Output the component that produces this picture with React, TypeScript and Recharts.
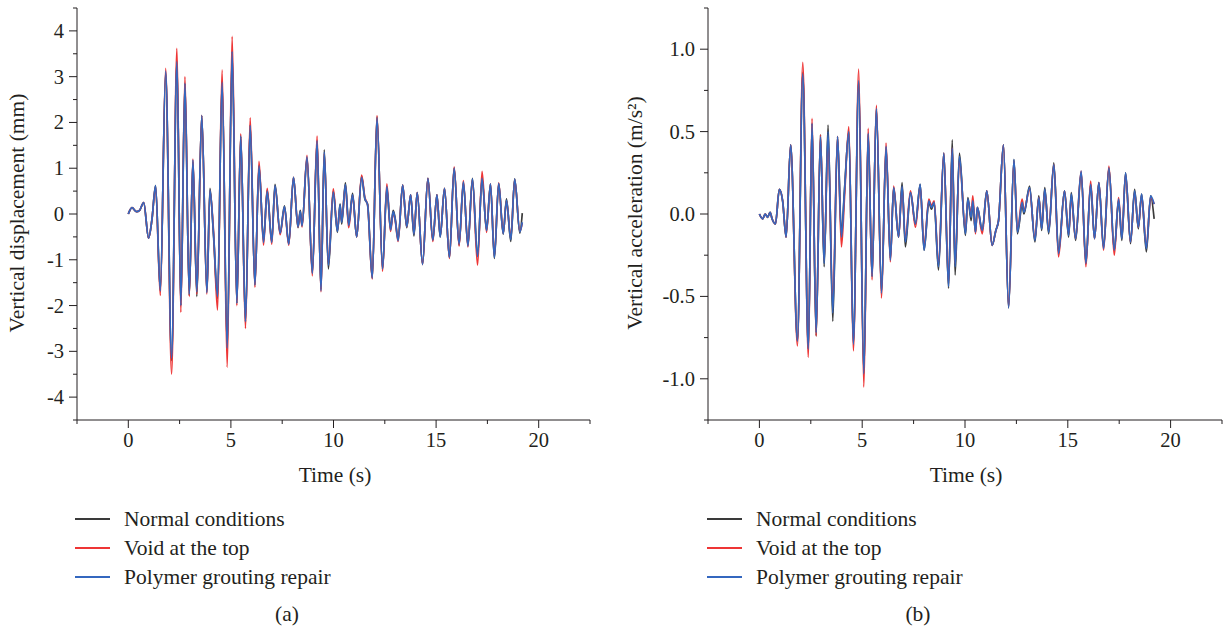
import React from 'react';
import { LineChart, Line, XAxis, YAxis } from 'recharts';

// panel (a): vertical displacement (mm)
const timeA = [0, 0.18, 0.4, 0.55, 0.75, 0.99, 1.15, 1.33, 1.56, 1.82, 2.11, 2.37, 2.56, 2.76, 2.97, 3.15, 3.34, 3.58, 3.83, 3.98, 4.15, 4.35, 4.57, 4.82, 5.06, 5.29, 5.48, 5.71, 5.94, 6.17, 6.37, 6.59, 6.77, 6.99, 7.15, 7.4, 7.61, 7.82, 8.05, 8.27, 8.38, 8.47, 8.71, 8.97, 9.2, 9.39, 9.55, 9.75, 9.99, 10.19, 10.32, 10.4, 10.58, 10.74, 10.93, 11.13, 11.37, 11.53, 11.66, 11.89, 12.12, 12.39, 12.6, 12.78, 12.91, 13.0, 13.15, 13.37, 13.57, 13.76, 13.92, 14.08, 14.34, 14.6, 14.84, 15.04, 15.2, 15.41, 15.65, 15.88, 16.12, 16.33, 16.55, 16.77, 17.02, 17.24, 17.46, 17.65, 17.84, 18.05, 18.27, 18.43, 18.64, 18.83, 19.08, 19.2];
const normalA = [0, 0.14, 0.05, 0.08, 0.25, -0.53, -0.13, 0.62, -1.68, 3.08, -3.2, 3.35, -2.0, 2.85, -1.78, 1.15, -1.8, 2.15, -1.7, 0.56, -0.45, -1.85, 2.9, -2.95, 3.5, -1.95, 1.7, -2.35, 1.95, -1.55, 1.05, -0.58, 0.52, -0.6, 0.65, -0.42, 0.18, -0.65, 0.8, -0.3, 0.08, -0.24, 1.22, -1.28, 1.6, -1.65, 1.4, -1.2, 0.5, -0.4, 0.22, -0.22, 0.68, -0.22, 0.45, -0.5, 0.82, 0.32, 0.22, -1.4, 2.12, -1.2, 0.55, -0.32, 0.08, -0.08, -0.55, 0.63, -0.3, 0.42, -0.48, 0.47, -1.1, 0.78, -0.57, 0.42, -0.5, 0.56, -0.95, 1.0, -0.68, 0.68, -0.68, 0.78, -0.92, 0.78, -0.35, 0.65, -0.97, 0.66, -0.44, 0.33, -0.6, 0.77, -0.42, 0.02];
const voidA = [0, 0.14, 0.05, 0.08, 0.25, -0.53, -0.13, 0.6, -1.78, 3.18, -3.5, 3.62, -2.15, 3.0, -1.8, 1.2, -1.75, 2.15, -1.75, 0.5, -0.35, -2.1, 3.15, -3.35, 3.88, -2.0, 1.75, -2.5, 2.1, -1.6, 1.15, -0.68, 0.56, -0.66, 0.6, -0.45, 0.14, -0.68, 0.8, -0.28, 0.02, -0.28, 1.28, -1.35, 1.7, -1.7, 1.32, -1.1, 0.55, -0.35, 0.15, -0.15, 0.62, -0.3, 0.4, -0.5, 0.85, 0.36, 0.2, -1.42, 2.15, -1.25, 0.66, -0.38, 0.02, -0.12, -0.6, 0.63, -0.28, 0.42, -0.42, 0.47, -1.1, 0.78, -0.6, 0.42, -0.48, 0.56, -0.97, 1.03, -0.7, 0.73, -0.72, 0.75, -1.12, 0.93, -0.4, 0.66, -0.92, 0.68, -0.42, 0.28, -0.52, 0.75, -0.38, -0.2];
const polymerA = [0, 0.14, 0.05, 0.08, 0.25, -0.53, -0.13, 0.62, -1.68, 3.12, -3.15, 3.33, -2.0, 2.86, -1.75, 1.18, -1.7, 2.15, -1.72, 0.52, -0.4, -1.8, 2.88, -2.93, 3.55, -1.95, 1.7, -2.35, 1.93, -1.55, 1.05, -0.62, 0.5, -0.62, 0.62, -0.42, 0.16, -0.66, 0.8, -0.28, 0.05, -0.26, 1.25, -1.3, 1.6, -1.68, 1.35, -1.12, 0.48, -0.38, 0.2, -0.18, 0.64, -0.25, 0.42, -0.5, 0.8, 0.34, 0.2, -1.4, 2.1, -1.2, 0.6, -0.35, 0.05, -0.1, -0.58, 0.63, -0.28, 0.42, -0.44, 0.47, -1.1, 0.78, -0.57, 0.42, -0.5, 0.56, -0.95, 1.0, -0.66, 0.7, -0.7, 0.77, -0.93, 0.78, -0.36, 0.66, -0.95, 0.67, -0.43, 0.3, -0.56, 0.76, -0.39, -0.18];

// panel (b): vertical acceleration (m/s²)
const timeB = [0, 0.16, 0.28, 0.4, 0.52, 0.62, 0.78, 0.97, 1.13, 1.3, 1.52, 1.85, 2.11, 2.38, 2.56, 2.76, 2.97, 3.15, 3.34, 3.57, 3.8, 3.99, 4.14, 4.35, 4.57, 4.83, 5.08, 5.29, 5.48, 5.69, 5.94, 6.16, 6.37, 6.53, 6.77, 6.94, 7.1, 7.35, 7.59, 7.82, 8.01, 8.24, 8.37, 8.5, 8.71, 8.97, 9.2, 9.38, 9.52, 9.73, 10.02, 10.14, 10.3, 10.38, 10.51, 10.6, 10.84, 11.06, 11.32, 11.5, 11.63, 11.87, 12.12, 12.38, 12.55, 12.78, 12.87, 13.14, 13.4, 13.59, 13.73, 13.88, 14.07, 14.32, 14.55, 14.84, 15.04, 15.17, 15.38, 15.65, 15.88, 16.11, 16.3, 16.51, 16.74, 17.0, 17.26, 17.47, 17.63, 17.81, 18.05, 18.25, 18.43, 18.59, 18.82, 19.03, 19.2];
const normalB = [0, -0.03, 0, -0.02, 0.01, -0.03, -0.06, 0.15, 0.08, -0.14, 0.42, -0.77, 0.86, -0.82, 0.55, -0.74, 0.48, -0.32, 0.54, -0.65, 0.47, -0.12, 0.15, 0.5, -0.78, 0.8, -0.97, 0.48, -0.38, 0.64, -0.47, 0.4, -0.27, 0.16, -0.14, 0.19, -0.2, 0.13, -0.06, 0.18, -0.22, 0.07, 0.03, 0.07, -0.34, 0.37, -0.45, 0.45, -0.37, 0.37, -0.13, 0.1, -0.04, 0.07, -0.11, 0.04, -0.1, 0.14, -0.19, -0.1, -0.04, 0.42, -0.57, 0.33, -0.12, 0.05, 0, 0.17, -0.17, 0.11, -0.1, 0.16, -0.12, 0.31, -0.23, 0.14, -0.14, 0.13, -0.16, 0.25, -0.3, 0.18, -0.15, 0.19, -0.2, 0.28, -0.22, 0.08, -0.16, 0.25, -0.18, 0.15, -0.09, 0.12, -0.23, 0.11, -0.03];
const voidB = [0, -0.03, 0, -0.02, 0.01, -0.03, -0.06, 0.15, 0.08, -0.14, 0.42, -0.8, 0.92, -0.87, 0.58, -0.74, 0.48, -0.28, 0.45, -0.55, 0.47, -0.2, 0.1, 0.53, -0.83, 0.88, -1.05, 0.52, -0.4, 0.66, -0.51, 0.43, -0.29, 0.17, -0.14, 0.16, -0.15, 0.14, -0.08, 0.17, -0.2, 0.09, 0.05, 0.08, -0.3, 0.37, -0.42, 0.4, -0.3, 0.33, -0.1, 0.08, 0, 0.11, -0.12, 0.04, -0.12, 0.14, -0.19, -0.1, -0.04, 0.42, -0.56, 0.32, -0.1, 0.09, 0.02, 0.15, -0.15, 0.1, -0.08, 0.14, -0.1, 0.3, -0.26, 0.14, -0.12, 0.1, -0.15, 0.26, -0.32, 0.2, -0.15, 0.19, -0.22, 0.29, -0.25, 0.1, -0.14, 0.24, -0.17, 0.13, -0.08, 0.11, -0.2, 0.1, 0.06];
const polymerB = [0, -0.03, 0, -0.02, 0.01, -0.03, -0.06, 0.15, 0.08, -0.14, 0.42, -0.77, 0.85, -0.82, 0.55, -0.72, 0.47, -0.3, 0.5, -0.6, 0.47, -0.14, 0.14, 0.5, -0.79, 0.81, -0.97, 0.49, -0.38, 0.64, -0.48, 0.41, -0.28, 0.16, -0.14, 0.17, -0.17, 0.13, -0.06, 0.18, -0.22, 0.08, 0.04, 0.07, -0.32, 0.37, -0.44, 0.4, -0.32, 0.35, -0.12, 0.09, -0.02, 0.08, -0.11, 0.04, -0.1, 0.14, -0.19, -0.1, -0.04, 0.42, -0.57, 0.33, -0.11, 0.07, 0.01, 0.16, -0.16, 0.1, -0.09, 0.15, -0.11, 0.3, -0.24, 0.14, -0.13, 0.12, -0.15, 0.26, -0.3, 0.18, -0.15, 0.19, -0.21, 0.28, -0.22, 0.09, -0.15, 0.25, -0.17, 0.14, -0.08, 0.12, -0.21, 0.11, 0.06];

const xTicks = [-2.5, 0, 2.5, 5, 7.5, 10, 12.5, 15, 17.5, 20, 22.5];
const yTicksA = [-4.5, -4, -3.5, -3, -2.5, -2, -1.5, -1, -0.5, 0, 0.5, 1, 1.5, 2, 2.5, 3, 3.5, 4, 4.5];
const yTicksB = [-1.25, -1, -0.75, -0.5, -0.25, 0, 0.25, 0.5, 0.75, 1, 1.25];

const seriesNames = ['Normal conditions', 'Void at the top', 'Polymer grouting repair'];
const seriesColors = ['#3a3a3a', '#ee3535', '#3467bf'];

const FONT = '"Liberation Serif", "DejaVu Serif", serif';
const INK = '#231f20';

const toRows = (t: number[], a: number[], b: number[], c: number[]) =>
  t.map((time, i) => ({ t: time, normal: a[i], void: b[i], polymer: c[i] }));

const dataA = toRows(timeA, normalA, voidA, polymerA);
const dataB = toRows(timeB, normalB, voidB, polymerB);

const XTick = (props: any) => {
  const { x, y, payload } = props;
  const v = payload.value;
  const major = Math.abs(v % 5) < 1e-6;
  return (
    <g>
      <line x1={x} x2={x} y1={y} y2={y + (major ? 8 : 4)} stroke={INK} strokeWidth={1} />
      {major && (
        <text x={x} y={y + 27} textAnchor="middle" fontFamily={FONT} fontSize={20.5} fill={INK}>
          {v}
        </text>
      )}
    </g>
  );
};

const makeYTick = (step: number, fmt: (v: number) => string) => (props: any) => {
  const { x, y, payload } = props;
  const v = payload.value;
  const r = v / step;
  const major = Math.abs(r - Math.round(r)) < 1e-6;
  return (
    <g>
      <line x1={x} x2={x - (major ? 8 : 4)} y1={y} y2={y} stroke={INK} strokeWidth={1} />
      {major && (
        <text x={x - 13} y={y + 7} textAnchor="end" fontFamily={FONT} fontSize={20.5} fill={INK}>
          {fmt(v)}
        </text>
      )}
    </g>
  );
};

const YTickA = makeYTick(1, (v) => String(v));
const YTickB = makeYTick(0.5, (v) => v.toFixed(1));

const Panel = ({ data, yDomain, yTicks, YTick, width }: any) => (
  <LineChart width={width} height={500} data={data} margin={{ top: 8, right: 2, bottom: 0, left: 0 }}>
    <XAxis
      dataKey="t"
      type="number"
      domain={[-2.5, 22.5]}
      ticks={xTicks}
      interval={0}
      tickSize={0}
      tickMargin={0}
      tickLine={false}
      height={80}
      axisLine={{ stroke: INK, strokeWidth: 1 }}
      tick={<XTick />}
      allowDataOverflow
    />
    <YAxis
      type="number"
      domain={yDomain}
      ticks={yTicks}
      interval={0}
      tickSize={0}
      tickMargin={0}
      tickLine={false}
      width={77}
      axisLine={{ stroke: INK, strokeWidth: 1 }}
      tick={<YTick />}
      allowDataOverflow
    />
    <Line dataKey="normal" type="monotone" stroke={seriesColors[0]} strokeWidth={1.7} dot={false} isAnimationActive={false} />
    <Line dataKey="void" type="monotone" stroke={seriesColors[1]} strokeWidth={1.7} dot={false} isAnimationActive={false} />
    <Line dataKey="polymer" type="monotone" stroke={seriesColors[2]} strokeWidth={1.7} dot={false} isAnimationActive={false} />
  </LineChart>
);

const textStyle: React.CSSProperties = {
  position: 'absolute',
  fontFamily: FONT,
  fontSize: 21.5,
  color: INK,
  whiteSpace: 'nowrap',
  lineHeight: 1,
};

const LegendBlock = ({ left }: { left: number }) => (
  <>
    {seriesNames.map((name, i) => (
      <div key={name} style={{ position: 'absolute', left, top: 508 + i * 29, height: 22, display: 'flex', alignItems: 'center' }}>
        <div style={{ width: 35, height: 1.6, background: seriesColors[i] }} />
        <span style={{ fontFamily: FONT, fontSize: 21.5, color: INK, marginLeft: 14, whiteSpace: 'nowrap' }}>{name}</span>
      </div>
    ))}
  </>
);

export default function App() {
  return (
    <div style={{ position: 'absolute', left: 0, top: 0, width: 1224, height: 633, background: '#fff', overflow: 'hidden' }}>
      <div style={{ position: 'absolute', left: 0, top: 0 }}>
        <Panel data={dataA} yDomain={[-4.5, 4.5]} yTicks={yTicksA} YTick={YTickA} width={592} />
      </div>
      <div style={{ position: 'absolute', left: 631, top: 0 }}>
        <Panel data={dataB} yDomain={[-1.25, 1.25]} yTicks={yTicksB} YTick={YTickB} width={593} />
      </div>

      <div style={{ ...textStyle, left: 18, top: 213, transform: 'translate(-50%, -50%) rotate(-90deg)' }}>
        Vertical displacement (mm)
      </div>
      <div style={{ ...textStyle, left: 636, top: 213, transform: 'translate(-50%, -50%) rotate(-90deg)' }}>
        Vertical acceleration (m/s²)
      </div>

      <div style={{ ...textStyle, left: 335, top: 476, transform: 'translate(-50%, -50%)' }}>Time (s)</div>
      <div style={{ ...textStyle, left: 966, top: 476, transform: 'translate(-50%, -50%)' }}>Time (s)</div>

      <LegendBlock left={75} />
      <LegendBlock left={707} />

      <div style={{ ...textStyle, left: 287, top: 615, transform: 'translate(-50%, -50%)' }}>(a)</div>
      <div style={{ ...textStyle, left: 918, top: 615, transform: 'translate(-50%, -50%)' }}>(b)</div>
    </div>
  );
}
